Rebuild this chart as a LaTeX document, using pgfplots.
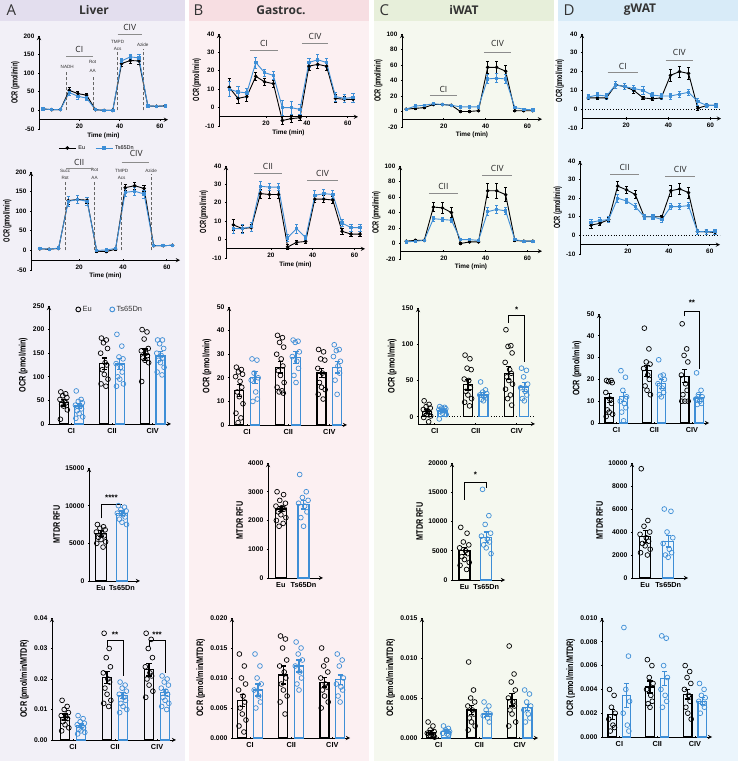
\documentclass[border=0pt]{standalone}
\usepackage{fontspec}
\setmainfont{Liberation Sans}
\newfontfamily\headfont{Open Sans}
\usepackage{pgfplots}
\pgfplotsset{compat=1.18}
\usepackage{pgfplotstable}

\definecolor{tsblue}{RGB}{62,142,214}
\definecolor{hA}{HTML}{E3DEEE}
\definecolor{bA}{HTML}{F2F0F7}
\definecolor{hB}{HTML}{F7DEE2}
\definecolor{bB}{HTML}{FCF0F2}
\definecolor{hC}{HTML}{E7EFDA}
\definecolor{bC}{HTML}{F5F8EF}
\definecolor{hD}{HTML}{D8EBF8}
\definecolor{bD}{HTML}{EBF5FC}

\pgfplotstableread{
t eu eue ts tse
2 4 2 4 2
6.3 2 1 2 1
10.6 2 1 2 1
15 54 8 48 8
19.3 45 6 38 7
23.6 41 6 33 6
28 2 1 2 1
32.3 0 1 0 1
36.6 0 1 0 1
41 126 8 133 8
45.3 134 8 144 8
49.6 133 10 141 9
54 12 1 12 1
58.3 11 1 11 1
62.6 12 1 12 1
}\tAone
\pgfplotstableread{
t eu eue ts tse
2 4 2 5 2
6.3 3 2 3 2
10.6 5 2 6 2
15 127 10 125 12
19.3 130 10 130 10
23.6 128 8 125 10
28 -2 2 0 2
32.3 -3 2 1 2
36.6 3 2 5 2
41 160 8 148 10
45.3 165 8 151 10
49.6 158 8 144 10
54 12 1 12 1
58.3 12 1 12 1
62.6 13 1 13 1
}\tAtwo
\pgfplotstableread{
t eu eue ts tse
2 11 5 10 4
6.3 5 2.5 8.5 3
10.6 6 2.5 8 2.5
15 17 2 24.5 3
19.3 14 2 19 2
23.6 13 2 17.5 2
28 -7 2 0 4
32.3 -6 2 0 3.5
36.6 -5.5 1.5 -1 2.5
41 22.5 2 24.5 2.5
45.3 23.5 2 26 3
49.6 22.5 2 24.5 2.5
54 5 2 6 2.5
58.3 4.5 1.5 5 2
62.6 4.5 1.5 5.5 2.5
}\tBone
\pgfplotstableread{
t eu eue ts tse
2 8 3 6 2.5
6.3 6 2 6 2.5
10.6 6.5 2 7 2.5
15 25 2.5 29 2.5
19.3 24.5 2 28.5 2
23.6 24.5 2 28.5 2
28 -4 1.5 1 2
32.3 -1.5 1 6 2.5
36.6 -1 1 1 1.5
41 22 2 24 2.5
45.3 22 2 25 2.5
49.6 21.5 2 24.5 2
54 4.5 1.5 9 2
58.3 3 1.5 6.5 2
62.6 3 1.5 6.5 2
}\tBtwo
\pgfplotstableread{
t eu eue ts tse
2 3 1 3 1
6.3 4 1 7 1
10.6 5 1 8 1
15 9 1.5 10 1.5
19.3 9 1.5 9 1.5
23.6 8 1 8 1
28 0 1 6 1
32.3 0 1 6 1
36.6 1 1 6 1
41 57 8 42 6
45.3 57 8 43 6
49.6 52 8 42 6
54 1 1 5 1
58.3 1 1 3 1
62.6 1 1 2 1
}\tCone
\pgfplotstableread{
t eu eue ts tse
2 3 1 2 1
6.3 4 1 3 1
10.6 4 1 4 1
15 47 6 32 3
19.3 46 7 31 3
23.6 40 6 30 3
28 0 1 5 1
32.3 2 1 5 1
36.6 2 1 4 1
41 68 9 41 5
45.3 68 10 44 5
49.6 63 9 42 5
54 4 1 5 1
58.3 3 1 3 1
62.6 3 1 3 1
}\tCtwo
\pgfplotstableread{
t eu eue ts tse
2 6 1 6.5 1.5
6.3 6 1 7.5 1.5
10.6 6 1 7 1.5
15 13 2 13 2
19.3 12 1.5 12 1.5
23.6 10 1.5 11 1.5
28 6 1 10 2
32.3 5.5 1 7.5 1.5
36.6 6 1 7 1.5
41 18 3 7 1.5
45.3 20 3 8 1.5
49.6 19 3 9 1.5
54 0.5 1 4 2
58.3 2 1 2 1
62.6 2 1 2 1
}\tDone
\pgfplotstableread{
t eu eue ts tse
2 5.5 1.5 7 1.5
6.3 6.5 1 8 1.5
10.6 8.5 1 8.5 1.5
15 26.5 2.5 20 2
19.3 24.5 2 18.5 1.5
23.6 22 2 15.5 1.5
28 10 1.5 10 1.5
32.3 10 1.5 10 1.5
36.6 10 1 8.5 1.5
41 24 3 15.5 1.5
45.3 25 3 15.5 1.5
49.6 23 3 16 1.5
54 2 1.5 2 1.5
58.3 2 1.5 2 1.5
62.6 1.5 1 2 1.5
}\tDtwo

\pgfplotsset{
  base/.style={scale only axis, anchor=south west, clip=false,
    axis line style={-, line width=0.85pt, black},
    tick style={line width=0.85pt, black},
    tick align=outside, major tick length=2.3pt,
    ticklabel style={font=\fontsize{6.8}{7}\selectfont\bfseries},
    /pgf/number format/assume math mode=true,
    /pgf/number format/1000 sep={},
    scaled y ticks=false},
  tsax/.style={base, axis y line=left, axis x line=bottom, axis x line shift=#1,
    xtick={20,40,60}, ylabel={OCR (pmol/min)},
    ticklabel style={font=\fontsize{6.4}{7}\selectfont\bfseries},
    ylabel style={font=\fontsize{5.6}{6}\selectfont\bfseries, yscale=1.6, yshift=-3pt},
    xlabel style={font=\fontsize{6.4}{7}\selectfont\bfseries, yshift=3pt}},
  barax/.style={base, axis lines=left, xtick={0,1,2}, xticklabels={CI,CII,CIV},
    xticklabel style={font=\fontsize{7.3}{8}\selectfont\bfseries},
    ylabel style={font=\fontsize{7.2}{8}\selectfont\bfseries, yscale=1.3, yshift=-2pt}, ymin=0},
  mtax/.style={base, axis lines=left, xtick={0,1}, xticklabels={Eu,Ts65Dn},
    xticklabel style={font=\fontsize{7.3}{8}\selectfont\bfseries},
    ylabel={MTDR RFU},
    ylabel style={font=\fontsize{7.2}{8}\selectfont\bfseries, yscale=1.3, yshift=-2pt},
    ymin=0, xmin=-0.57, xmax=1.86},
  eul/.style={black, line width=0.9pt, mark=*, mark size=1.3pt,
    error bars/.cd, y dir=both, y explicit,
    error bar style={line width=0.7pt},
    error mark options={rotate=90, mark size=1.6pt, line width=0.7pt}},
  tsl/.style={tsblue, line width=0.9pt, mark=square*, mark size=1.2pt,
    error bars/.cd, y dir=both, y explicit,
    error bar style={line width=0.7pt},
    error mark options={rotate=90, mark size=1.6pt, line width=0.7pt}},
  eub/.style={ybar, bar width=#1, bar shift=0pt, draw=black, fill=none, line width=1.2pt,
    error bars/.cd, y dir=both, y explicit,
    error bar style={line width=1.2pt, black},
    error mark options={rotate=90, mark size=2.6pt, line width=1.2pt, black}},
  tsbar/.style={ybar, bar width=#1, bar shift=0pt, draw=tsblue, fill=none, line width=1.2pt,
    error bars/.cd, y dir=both, y explicit,
    error bar style={line width=1.2pt, tsblue},
    error mark options={rotate=90, mark size=2.6pt, line width=1.2pt, tsblue}},
  eup/.style={only marks, mark=o, mark size=2.4pt, black, line width=0.7pt},
  tsp/.style={only marks, mark=o, mark size=2.4pt, tsblue, line width=0.7pt},
}
\tikzset{
  grl/.style={black!45, line width=1.1pt},
  cl/.style={font=\headfont\fontsize{8.5}{9}\selectfont, text=black!85},
  inj/.style={densely dashed, black!60, line width=0.6pt},
  injl/.style={font=\fontsize{4.6}{5}\selectfont, text=black!80},
  sig/.style={line width=0.9pt, black},
  sigt/.style={font=\fontsize{8}{8}\selectfont\bfseries},
}

\begin{document}
\begin{tikzpicture}[x=1pt,y=1pt]
\useasboundingbox (0,0) rectangle (738,761);
% backgrounds
\fill[bA] (0,0) rectangle (185,740);   \fill[hA] (0,740) rectangle (185,761);
\fill[bB] (189,0) rectangle (369,740); \fill[hB] (189,740) rectangle (369,761);
\fill[bC] (374,0) rectangle (554,740); \fill[hC] (374,740) rectangle (554,761);
\fill[bD] (558,0) rectangle (738,740); \fill[hD] (558,740) rectangle (738,761);
\node[anchor=west, font=\headfont\fontsize{15}{16}\selectfont, text=black!80] at (3,751) {A};
\node[anchor=west, font=\headfont\fontsize{15}{16}\selectfont, text=black!80] at (190,751) {B};
\node[anchor=west, font=\headfont\fontsize{15}{16}\selectfont, text=black!80] at (376,751) {C};
\node[anchor=west, font=\headfont\fontsize{15}{16}\selectfont, text=black!80] at (560,751) {D};
\node[font=\headfont\bfseries\fontsize{12}{13}\selectfont, text=black!80] at (94,751) {Liver};
\node[font=\headfont\bfseries\fontsize{12}{13}\selectfont, text=black!80] at (281,751) {Gastroc.};
\node[font=\headfont\bfseries\fontsize{12}{13}\selectfont, text=black!80] at (464,751) {iWAT};
\node[font=\headfont\bfseries\fontsize{12}{13}\selectfont, text=black!80] at (640,751) {gWAT};

%%%%%%%%%%%%%%%% ROW 1
\begin{axis}[tsax=-9.3pt, at={(39pt,632pt)}, width=129pt, height=93pt,
  xmin=0, xmax=64, ymin=-50, ymax=200, ytick={-50,0,50,100,150,200}, xlabel={Time (min)},
  legend style={at={(0.45,-0.13)}, anchor=north, draw=none, fill=none, legend columns=2,
    font=\fontsize{5.5}{6}\selectfont, /tikz/every even column/.append style={column sep=8pt}}]
\addplot[eul] table[x=t,y=eu,y error=eue]{\tAone}; \addlegendentry{Eu}
\addplot[tsl] table[x=t,y=ts,y error=tse]{\tAone}; \addlegendentry{Ts65Dn}
\draw[inj] (axis cs:13.4,0) -- (axis cs:13.4,105);
\draw[inj] (axis cs:26.9,0) -- (axis cs:26.9,94);
\draw[inj] (axis cs:38.9,0) -- (axis cs:38.9,157);
\draw[inj] (axis cs:51.5,0) -- (axis cs:51.5,164);
\node[injl] at (axis cs:14,118) {NADH};
\node[injl] at (axis cs:26.6,130) {Rot};
\node[injl] at (axis cs:26.6,107) {AA};
\node[injl] at (axis cs:39,185) {TMPD};
\node[injl] at (axis cs:39,165) {Acs};
\node[injl] at (axis cs:51.5,175) {Azide};
\draw[grl] (axis cs:13.4,146) -- (axis cs:26.6,146);
\node[cl] at (axis cs:20,163) {CI};
\draw[grl] (axis cs:39,205) -- (axis cs:51,205);
\node[cl] at (axis cs:45,224) {CIV};
\end{axis}

\begin{axis}[tsax=-9.2pt, at={(219pt,635pt)}, width=139pt, height=92pt,
  xmin=-3, xmax=65, ymin=-10, ymax=40, ytick={-10,0,10,20,30,40}, xlabel={Time (min)}]
\addplot[eul] table[x=t,y=eu,y error=eue]{\tBone};
\addplot[tsl] table[x=t,y=ts,y error=tse]{\tBone};
\draw[grl] (axis cs:12.1,31) -- (axis cs:25.8,31);
\node[cl] at (axis cs:19,34.8) {CI};
\draw[grl] (axis cs:37.6,35) -- (axis cs:50.5,35);
\node[cl] at (axis cs:44,38.6) {CIV};
\end{axis}

\begin{axis}[tsax=-7.75pt, at={(402pt,634pt)}, width=140pt, height=93pt,
  xmin=0, xmax=67, ymin=-20, ymax=100, ytick={-20,0,20,40,60,80,100}, xlabel={Time (min)}]
\addplot[eul] table[x=t,y=eu,y error=eue]{\tCone};
\addplot[tsl] table[x=t,y=ts,y error=tse]{\tCone};
\draw[grl] (axis cs:13.3,20.6) -- (axis cs:26.3,20.6);
\node[cl] at (axis cs:19.8,29) {CI};
\draw[grl] (axis cs:39.2,76) -- (axis cs:52.2,76);
\node[cl] at (axis cs:45.7,88) {CIV};
\end{axis}

\begin{axis}[tsax=-9.4pt, at={(582pt,633pt)}, width=139pt, height=94pt,
  xmin=-1, xmax=65, ymin=-10, ymax=40, ytick={-10,0,10,20,30,40}]
\addplot[black, dotted, line width=0.8pt, mark=none, forget plot] coordinates {(-1,0) (65,0)};
\addplot[eul] table[x=t,y=eu,y error=eue]{\tDone};
\addplot[tsl] table[x=t,y=ts,y error=tse]{\tDone};
\draw[grl] (axis cs:11.2,19.4) -- (axis cs:25.6,19.4);
\node[cl] at (axis cs:18.4,22.9) {CI};
\draw[grl] (axis cs:38.7,26) -- (axis cs:51.7,26);
\node[cl] at (axis cs:45.2,30) {CIV};
\end{axis}

%%%%%%%%%%%%%%%% ROW 2
\begin{axis}[tsax=-9.8pt, at={(31pt,491pt)}, width=149pt, height=98pt,
  xmin=-2, xmax=66, ymin=-50, ymax=200, ytick={-50,0,50,100,150,200}, xlabel={Time (min)}]
\addplot[eul] table[x=t,y=eu,y error=eue]{\tAtwo};
\addplot[tsl] table[x=t,y=ts,y error=tse]{\tAtwo};
\draw[inj] (axis cs:13.6,0) -- (axis cs:13.6,176);
\draw[inj] (axis cs:27,0) -- (axis cs:27,176);
\draw[inj] (axis cs:39.4,0) -- (axis cs:39.4,176);
\draw[inj] (axis cs:52.8,0) -- (axis cs:52.8,195);
\node[injl] at (axis cs:13.6,204) {Succ};
\node[injl] at (axis cs:13.6,185) {Rot};
\node[injl] at (axis cs:27,204) {Rot};
\node[injl] at (axis cs:27,185) {AA};
\node[injl] at (axis cs:39.4,204) {TMPD};
\node[injl] at (axis cs:39.4,185) {Acs};
\node[injl] at (axis cs:52.8,204) {Azide};
\draw[grl] (axis cs:14,210) -- (axis cs:26.4,210);
\node[cl] at (axis cs:20,225) {CII};
\draw[grl] (axis cs:39.4,225) -- (axis cs:52,225);
\node[cl] at (axis cs:46,247) {CIV};
\end{axis}

\begin{axis}[tsax=-9.2pt, at={(226pt,503pt)}, width=139pt, height=92pt,
  xmin=-1.5, xmax=65, ymin=-10, ymax=40, ytick={-10,0,10,20,30,40}, xlabel={Time (min)}]
\addplot[eul] table[x=t,y=eu,y error=eue]{\tBtwo};
\addplot[tsl] table[x=t,y=ts,y error=tse]{\tBtwo};
\draw[grl] (axis cs:11.8,35.9) -- (axis cs:25.4,35.9);
\node[cl] at (axis cs:18.6,39.6) {CII};
\draw[grl] (axis cs:37.4,31.9) -- (axis cs:52,31.9);
\node[cl] at (axis cs:44.7,35.9) {CIV};
\end{axis}

\begin{axis}[tsax=-7.75pt, at={(400pt,502pt)}, width=142pt, height=93pt,
  xmin=-1, xmax=67, ymin=-20, ymax=100, ytick={-20,0,20,40,60,80,100}, xlabel={Time (min)}]
\addplot[eul] table[x=t,y=eu,y error=eue]{\tCtwo};
\addplot[tsl] table[x=t,y=ts,y error=tse]{\tCtwo};
\draw[grl] (axis cs:12.8,65) -- (axis cs:26.9,65);
\node[cl] at (axis cs:19.8,74) {CII};
\draw[grl] (axis cs:38.4,88) -- (axis cs:52.8,88);
\node[cl] at (axis cs:45.6,96.5) {CIV};
\end{axis}

\begin{axis}[tsax=-9.3pt, at={(580pt,507pt)}, width=140pt, height=93pt,
  xmin=-3.4, xmax=65, ymin=-10, ymax=40, ytick={-10,0,10,20,30,40}]
\addplot[black, dotted, line width=0.8pt, mark=none, forget plot] coordinates {(-3.4,0) (65,0)};
\addplot[eul] table[x=t,y=eu,y error=eue]{\tDtwo};
\addplot[tsl] table[x=t,y=ts,y error=tse]{\tDtwo};
\draw[grl] (axis cs:11.4,32.7) -- (axis cs:25.4,32.7);
\node[cl] at (axis cs:18.4,36.4) {CII};
\draw[grl] (axis cs:38.2,31.6) -- (axis cs:53,31.6);
\node[cl] at (axis cs:45.6,35.6) {CIV};
\end{axis}

%%%%%%%%%%%%%%%% ROW 3
\begin{axis}[barax, at={(49pt,337pt)}, width=122pt, height=118pt,
  xmin=-0.55, xmax=2.45, ymax=250, ytick={0,50,100,150,200,250}, ylabel={OCR (pmol/min)},
  legend style={at={(0.5,1.035)}, anchor=north, draw=none, fill=none, legend columns=2,
    font=\fontsize{7.5}{8}\selectfont, text=black!80,
    /tikz/every even column/.append style={column sep=16pt}}]
\addlegendimage{eup, line width=0.9pt}\addlegendentry{Eu}
\addlegendimage{tsp, line width=0.9pt}\addlegendentry{Ts65Dn}
\addplot[eub=9pt] coordinates {(-0.19,45)+-(0,7) (0.81,128)+-(0,12) (1.81,147)+-(0,12)};
\addplot[tsbar=9pt] coordinates {(0.19,38)+-(0,6) (1.19,127)+-(0,12) (2.19,144)+-(0,9)};
\addplot[eup] coordinates {(-0.26,68) (-0.14,64) (-0.21,60) (-0.11,56) (-0.28,52) (-0.17,48) (-0.13,45) (-0.24,42) (-0.19,38) (-0.10,30) (-0.27,10)
 (0.74,182) (0.86,178) (0.79,172) (0.89,160) (0.72,150) (0.83,130) (0.87,125) (0.76,115) (0.81,105) (0.90,95) (0.73,85) (0.85,80)
 (1.74,200) (1.86,195) (1.79,180) (1.89,160) (1.72,155) (1.83,150) (1.87,145) (1.76,140) (1.81,135) (1.90,130) (1.73,90)};
\addplot[tsp] coordinates {(0.12,70) (0.24,52) (0.17,48) (0.27,45) (0.10,40) (0.21,38) (0.25,32) (0.14,28) (0.19,22) (0.28,15) (0.11,12)
 (1.12,190) (1.24,165) (1.17,142) (1.27,138) (1.10,128) (1.21,120) (1.25,110) (1.14,100) (1.19,95) (1.28,85) (1.11,80)
 (2.12,178) (2.24,178) (2.17,170) (2.27,160) (2.10,150) (2.21,145) (2.25,140) (2.14,135) (2.19,130) (2.28,120) (2.11,110) (2.23,104)};
\end{axis}

\begin{axis}[barax, at={(229pt,336pt)}, width=118pt, height=118pt,
  xmin=-0.44, xmax=2.43, ymax=50, ytick={0,10,20,30,40,50}, ylabel={OCR (pmol/min)}]
\addplot[eub=9pt] coordinates {(-0.19,14.7)+-(0,2.5) (0.81,24.5)+-(0,2.5) (1.81,22)+-(0,2)};
\addplot[tsbar=9pt] coordinates {(0.19,20)+-(0,2.5) (1.19,28.5)+-(0,2.5) (2.19,24.5)+-(0,2.5)};
\addplot[eup] coordinates {(-0.26,24.5) (-0.14,23.5) (-0.21,22.5) (-0.11,21.5) (-0.28,20.5) (-0.17,18.5) (-0.13,16) (-0.24,14) (-0.19,12) (-0.10,9) (-0.27,5) (-0.15,3) (-0.22,1)
 (0.74,38) (0.86,37) (0.79,35) (0.89,33) (0.72,30) (0.83,28) (0.87,25) (0.76,23) (0.81,21) (0.90,18) (0.73,16) (0.85,14.5) (0.78,14) (0.88,13.5)
 (1.74,32) (1.86,31) (1.79,28) (1.89,27.5) (1.72,24) (1.83,22) (1.87,21) (1.76,18) (1.81,16) (1.90,15) (1.73,13) (1.85,11)};
\addplot[tsp] coordinates {(0.12,28) (0.24,27.5) (0.17,22) (0.27,20) (0.10,19) (0.21,14) (0.25,11) (0.14,10)
 (1.12,36) (1.24,35.5) (1.17,35) (1.27,31) (1.10,29) (1.21,27) (1.25,24) (1.14,21) (1.19,18)
 (2.12,34) (2.24,32) (2.17,31.5) (2.27,27) (2.10,29) (2.21,25) (2.25,22) (2.14,19) (2.19,13)};
\end{axis}

\begin{axis}[barax, at={(418pt,337pt)}, width=117pt, height=116pt,
  xmin=-0.41, xmax=2.45, ymin=-10, ymax=150, ytick={0,50,100,150}, ylabel={OCR (pmol/min)}]
\addplot[black, dotted, line width=0.8pt, mark=none] coordinates {(-0.41,0) (2.45,0)};
\addplot[eub=9pt] coordinates {(-0.19,7.5)+-(0,3) (0.81,44)+-(0,7) (1.81,60)+-(0,9)};
\addplot[tsbar=9pt] coordinates {(0.19,8)+-(0,2) (1.19,30)+-(0,3) (2.19,41)+-(0,6)};
\addplot[eup] coordinates {(-0.26,22) (-0.14,17) (-0.21,14) (-0.11,12) (-0.28,10) (-0.17,8) (-0.13,6) (-0.24,5) (-0.19,3) (-0.10,1) (-0.27,-1) (-0.15,-7)
 (0.74,85) (0.86,80) (0.79,67) (0.89,65) (0.72,52) (0.83,50) (0.87,40) (0.76,35) (0.81,30) (0.90,25) (0.73,20) (0.85,15)
 (1.74,120) (1.86,98) (1.79,97) (1.89,88) (1.72,75) (1.83,65) (1.87,60) (1.76,55) (1.81,50) (1.90,45) (1.73,38) (1.85,30) (1.78,25) (1.88,16)};
\addplot[tsp] coordinates {(0.12,14) (0.24,13) (0.17,12) (0.27,11) (0.10,10) (0.21,9) (0.25,8) (0.14,7) (0.19,5) (0.28,3) (0.11,-3)
 (1.12,48) (1.24,37) (1.17,34) (1.27,32) (1.10,30) (1.21,28) (1.25,26) (1.14,24) (1.19,22)
 (2.12,67) (2.24,64) (2.17,55) (2.27,45) (2.10,40) (2.21,35) (2.25,30) (2.14,25) (2.19,22)};
\draw[sig] (axis cs:1.81,129) -- (axis cs:1.81,140) -- (axis cs:2.19,140) -- (axis cs:2.19,76);
\node[sigt] at (axis cs:2,148) {*};
\end{axis}

\begin{axis}[barax, at={(599pt,338pt)}, width=110pt, height=109pt,
  xmin=-0.46, xmax=2.45, ymax=50, ytick={0,10,20,30,40,50}, ylabel={OCR (pmol/min)}]
\addplot[eub=8.5pt] coordinates {(-0.19,11.5)+-(0,2) (0.81,24)+-(0,2.5) (1.81,21.5)+-(0,3)};
\addplot[tsbar=8.5pt] coordinates {(0.19,12)+-(0,2) (1.19,18)+-(0,2) (2.19,11.5)+-(0,1.5)};
\addplot[eup] coordinates {(-0.26,19.5) (-0.14,19.5) (-0.21,19) (-0.11,18.5) (-0.28,14) (-0.17,11) (-0.13,9) (-0.24,6) (-0.19,5) (-0.10,4) (-0.27,3)
 (0.74,43.5) (0.86,34) (0.79,28) (0.89,27) (0.72,25) (0.83,22) (0.87,20) (0.76,17) (0.81,15) (0.90,13)
 (1.74,45.5) (1.86,34) (1.79,31) (1.89,28) (1.72,22) (1.83,18) (1.87,15) (1.76,13) (1.81,10) (1.90,10) (1.73,10)};
\addplot[tsp] coordinates {(0.12,24) (0.24,21) (0.17,15) (0.27,12) (0.10,10) (0.21,9) (0.25,7) (0.14,5) (0.19,1)
 (1.12,29) (1.24,22) (1.17,21.5) (1.27,20) (1.10,18) (1.21,16) (1.25,14) (1.14,13) (1.19,12)
 (2.12,23) (2.24,15) (2.17,13) (2.27,12) (2.10,11) (2.21,10) (2.25,9) (2.14,8.5)};
\draw[sig] (axis cs:1.81,49) -- (axis cs:1.81,51.4) -- (axis cs:2.19,51.4) -- (axis cs:2.19,25);
\node[sigt] at (axis cs:2,55) {**};
\end{axis}

%%%%%%%%%%%%%%%% ROW 4
\begin{axis}[mtax, at={(89pt,180pt)}, width=51pt, height=113pt,
  ymax=15000, ytick={0,5000,10000,15000}]
\addplot[eub=11pt] coordinates {(0,6300)+-(0,400)};
\addplot[tsbar=11pt] coordinates {(1,9000)+-(0,300)};
\addplot[eup] coordinates {(-0.17,7500) (0.12,7200) (-0.05,7000) (0.2,6800) (-0.22,6500) (0.05,6300) (0.15,6000) (-0.12,5800) (0,5500) (0.22,5200) (-0.2,5000) (0.1,4500)};
\addplot[tsp] coordinates {(0.83,10000) (1.12,9800) (0.95,9500) (1.2,9300) (0.78,9000) (1.05,8800) (1.15,8500) (0.88,8200) (1.0,7800) (1.22,7500)};
\draw[sig] (axis cs:0,8300) -- (axis cs:0,10200) -- (axis cs:1,10200) -- (axis cs:1,10100);
\node[sigt] at (axis cs:0.5,11000) {****};
\end{axis}

\begin{axis}[mtax, at={(268pt,183pt)}, width=55pt, height=115pt,
  ymax=4000, ytick={0,1000,2000,3000,4000}]
\addplot[eub=11pt] coordinates {(0,2400)+-(0,100)};
\addplot[tsbar=11pt] coordinates {(1,2550)+-(0,150)};
\addplot[eup] coordinates {(-0.17,3000) (0.12,2900) (-0.05,2700) (0.2,2600) (-0.22,2500) (0.05,2450) (0.15,2400) (-0.12,2300) (0,2200) (0.22,2100) (-0.2,2000) (0.1,1900) (-0.08,1800)};
\addplot[tsp] coordinates {(0.83,3600) (1.12,3000) (0.95,2800) (1.2,2700) (0.78,2600) (1.05,2500) (1.15,2300) (0.88,2100) (1.0,1800)};
\end{axis}

\begin{axis}[mtax, at={(452pt,181pt)}, width=53pt, height=117pt,
  ymax=20000, ytick={0,5000,10000,15000,20000}]
\addplot[eub=11pt] coordinates {(0,5000)+-(0,600)};
\addplot[tsbar=11pt] coordinates {(1,7300)+-(0,900)};
\addplot[eup] coordinates {(-0.17,9000) (0.12,8000) (-0.05,6500) (0.2,6000) (-0.22,5500) (0.05,5000) (0.15,4500) (-0.12,4000) (0,3500) (0.22,3000) (-0.2,2500) (0.1,1800)};
\addplot[tsp] coordinates {(0.83,15500) (1.12,11000) (0.95,9500) (1.2,8000) (0.78,7500) (1.05,7000) (1.15,6500) (0.88,6000) (1.0,5500) (1.22,4500)};
\draw[sig] (axis cs:0,13700) -- (axis cs:0,16750) -- (axis cs:1,16750) -- (axis cs:1,15700);
\node[sigt] at (axis cs:0.5,18000) {*};
\end{axis}

\begin{axis}[mtax, at={(632pt,183pt)}, width=56pt, height=115pt,
  ymax=10000, ytick={0,2000,4000,6000,8000,10000}]
\addplot[eub=11pt] coordinates {(0,3600)+-(0,500)};
\addplot[tsbar=11pt] coordinates {(1,3200)+-(0,500)};
\addplot[eup] coordinates {(-0.17,9500) (0.12,5000) (-0.05,4500) (0.2,4000) (-0.22,3800) (0.05,3500) (0.15,3200) (-0.12,3000) (0,2800) (0.22,2500) (-0.2,2200) (0.1,2000)};
\addplot[tsp] coordinates {(0.83,6000) (1.12,5800) (0.95,4000) (1.2,3500) (0.78,3000) (1.05,2500) (1.15,2200) (0.88,2000) (1.0,1800)};
\end{axis}

%%%%%%%%%%%%%%%% ROW 5
\begin{axis}[barax, at={(52pt,21pt)}, width=124pt, height=122pt,
  xmin=-0.5, xmax=2.45, ymax=0.04, ytick={0,0.01,0.02,0.03,0.04}, ylabel={OCR (pmol/min/MTDR)},
  yticklabel style={/pgf/number format/.cd, fixed, fixed zerofill, precision=2}]
\addplot[eub=9pt] coordinates {(-0.19,0.0075)+-(0,0.001) (0.81,0.0205)+-(0,0.002) (1.81,0.023)+-(0,0.002)};
\addplot[tsbar=9pt] coordinates {(0.19,0.0048)+-(0,0.0007) (1.19,0.0145)+-(0,0.001) (2.19,0.0155)+-(0,0.001)};
\addplot[eup] coordinates {(-0.26,0.013) (-0.14,0.011) (-0.21,0.010) (-0.11,0.009) (-0.28,0.008) (-0.17,0.0075) (-0.13,0.007) (-0.24,0.006) (-0.19,0.005) (-0.10,0.004) (-0.27,0.003)
 (0.74,0.035) (0.86,0.030) (0.79,0.027) (0.89,0.024) (0.72,0.022) (0.83,0.020) (0.87,0.019) (0.76,0.017) (0.81,0.015) (0.90,0.013) (0.73,0.012) (0.85,0.011)
 (1.74,0.035) (1.86,0.033) (1.79,0.030) (1.89,0.027) (1.72,0.024) (1.83,0.022) (1.87,0.021) (1.76,0.020) (1.81,0.018) (1.90,0.016) (1.73,0.014)};
\addplot[tsp] coordinates {(0.12,0.008) (0.24,0.007) (0.17,0.006) (0.27,0.0055) (0.10,0.005) (0.21,0.0045) (0.25,0.004) (0.14,0.0035) (0.19,0.003) (0.28,0.0025) (0.11,0.002)
 (1.12,0.019) (1.24,0.018) (1.17,0.017) (1.27,0.016) (1.10,0.015) (1.21,0.014) (1.25,0.013) (1.14,0.012) (1.19,0.011) (1.28,0.010) (1.11,0.009)
 (2.12,0.021) (2.24,0.020) (2.17,0.019) (2.27,0.018) (2.10,0.017) (2.21,0.016) (2.25,0.015) (2.14,0.014) (2.19,0.013) (2.28,0.012) (2.11,0.011) (2.23,0.010)};
\draw[sig] (axis cs:0.81,0.0305) -- (axis cs:0.81,0.0328) -- (axis cs:1.19,0.0328) -- (axis cs:1.19,0.021);
\node[sigt] at (axis cs:1,0.0345) {**};
\draw[sig] (axis cs:1.81,0.0305) -- (axis cs:1.81,0.0328) -- (axis cs:2.19,0.0328) -- (axis cs:2.19,0.022);
\node[sigt] at (axis cs:2,0.0345) {***};
\end{axis}

\begin{axis}[barax, at={(232pt,23pt)}, width=118pt, height=120pt,
  xmin=-0.44, xmax=2.43, ymax=0.02, ytick={0,0.005,0.01,0.015,0.02}, ylabel={OCR (pmol/min/MTDR)},
  yticklabel style={/pgf/number format/.cd, fixed, fixed zerofill, precision=3}]
\addplot[eub=9pt] coordinates {(-0.19,0.0063)+-(0,0.001) (0.81,0.0105)+-(0,0.0015) (1.81,0.0093)+-(0,0.0008)};
\addplot[tsbar=9pt] coordinates {(0.19,0.008)+-(0,0.001) (1.19,0.012)+-(0,0.001) (2.19,0.0097)+-(0,0.0008)};
\addplot[eup] coordinates {(-0.26,0.014) (-0.14,0.012) (-0.21,0.010) (-0.11,0.009) (-0.28,0.008) (-0.17,0.007) (-0.13,0.006) (-0.24,0.005) (-0.19,0.004) (-0.10,0.003) (-0.27,0.002) (-0.15,0.001)
 (0.74,0.017) (0.86,0.0165) (0.79,0.015) (0.89,0.013) (0.72,0.012) (0.83,0.011) (0.87,0.010) (0.76,0.009) (0.81,0.008) (0.90,0.007) (0.73,0.006) (0.85,0.004)
 (1.74,0.015) (1.86,0.013) (1.79,0.012) (1.89,0.011) (1.72,0.010) (1.83,0.009) (1.87,0.0085) (1.76,0.008) (1.81,0.007) (1.90,0.006) (1.73,0.005)};
\addplot[tsp] coordinates {(0.12,0.014) (0.24,0.012) (0.17,0.010) (0.27,0.009) (0.10,0.008) (0.21,0.007) (0.25,0.006) (0.14,0.005)
 (1.12,0.016) (1.24,0.015) (1.17,0.014) (1.27,0.013) (1.10,0.012) (1.21,0.011) (1.25,0.010) (1.14,0.009) (1.19,0.008)
 (2.12,0.014) (2.24,0.013) (2.17,0.012) (2.27,0.010) (2.10,0.009) (2.21,0.0085) (2.25,0.008) (2.14,0.007) (2.19,0.006)};
\end{axis}

\begin{axis}[barax, at={(422pt,23pt)}, width=116pt, height=120pt,
  xmin=-0.41, xmax=2.45, ymax=0.015, ytick={0,0.005,0.01,0.015}, ylabel={OCR (pmol/min/MTDR)},
  yticklabel style={/pgf/number format/.cd, fixed, fixed zerofill, precision=3}]
\addplot[eub=9pt] coordinates {(-0.19,0.0007)+-(0,0.0002) (0.81,0.0035)+-(0,0.0006) (1.81,0.0048)+-(0,0.0008)};
\addplot[tsbar=9pt] coordinates {(0.19,0.0008)+-(0,0.0002) (1.19,0.003)+-(0,0.0003) (2.19,0.0038)+-(0,0.0004)};
\addplot[eup] coordinates {(-0.26,0.002) (-0.14,0.0015) (-0.21,0.001) (-0.11,0.0008) (-0.28,0.0006) (-0.17,0.0005) (-0.13,0.0004) (-0.24,0.0003) (-0.19,0.0002) (-0.10,0.0001)
 (0.74,0.0095) (0.86,0.006) (0.79,0.005) (0.89,0.0045) (0.72,0.004) (0.83,0.0035) (0.87,0.003) (0.76,0.0025) (0.81,0.002) (0.90,0.0015) (0.73,0.001)
 (1.74,0.0115) (1.86,0.008) (1.79,0.007) (1.89,0.006) (1.72,0.005) (1.83,0.0045) (1.87,0.004) (1.76,0.0035) (1.81,0.003) (1.90,0.002) (1.73,0.0015)};
\addplot[tsp] coordinates {(0.12,0.0015) (0.24,0.0012) (0.17,0.001) (0.27,0.0008) (0.10,0.0006) (0.21,0.0005) (0.25,0.0004)
 (1.12,0.0045) (1.24,0.004) (1.17,0.0035) (1.27,0.003) (1.10,0.0028) (1.21,0.0025) (1.25,0.002)
 (2.12,0.006) (2.24,0.0055) (2.17,0.0045) (2.27,0.004) (2.10,0.0035) (2.21,0.003) (2.25,0.0025) (2.14,0.002)};
\end{axis}

\begin{axis}[barax, at={(602pt,24pt)}, width=110pt, height=119pt,
  xmin=-0.46, xmax=2.45, ymax=0.01, ytick={0,0.002,0.004,0.006,0.008,0.01}, ylabel={OCR (pmol/min/MTDR)},
  yticklabel style={/pgf/number format/.cd, fixed, fixed zerofill, precision=3}]
\addplot[eub=8.5pt] coordinates {(-0.19,0.0019)+-(0,0.0004) (0.81,0.0042)+-(0,0.0005) (1.81,0.0036)+-(0,0.0004)};
\addplot[tsbar=8.5pt] coordinates {(0.19,0.0035)+-(0,0.001) (1.19,0.0049)+-(0,0.0006) (2.19,0.003)+-(0,0.0003)};
\addplot[eup] coordinates {(-0.26,0.004) (-0.14,0.0035) (-0.21,0.0025) (-0.11,0.002) (-0.28,0.0015) (-0.17,0.001) (-0.13,0.0008) (-0.24,0.0005)
 (0.74,0.0065) (0.86,0.006) (0.79,0.005) (0.89,0.0045) (0.72,0.004) (0.83,0.0035) (0.87,0.003) (0.76,0.0028) (0.81,0.0025)
 (1.74,0.006) (1.86,0.0055) (1.79,0.005) (1.89,0.0045) (1.72,0.004) (1.83,0.0035) (1.87,0.003) (1.76,0.0025) (1.81,0.002) (1.90,0.0015)};
\addplot[tsp] coordinates {(0.12,0.0092) (0.24,0.0068) (0.17,0.004) (0.27,0.003) (0.10,0.002) (0.21,0.001) (0.25,0.0005)
 (1.12,0.0085) (1.24,0.0083) (1.17,0.006) (1.27,0.005) (1.10,0.004) (1.21,0.0035) (1.25,0.003) (1.14,0.0025)
 (2.12,0.0045) (2.24,0.004) (2.17,0.0035) (2.27,0.0033) (2.10,0.003) (2.21,0.0028) (2.25,0.0025) (2.14,0.002)};
\end{axis}
\end{tikzpicture}
\end{document}
